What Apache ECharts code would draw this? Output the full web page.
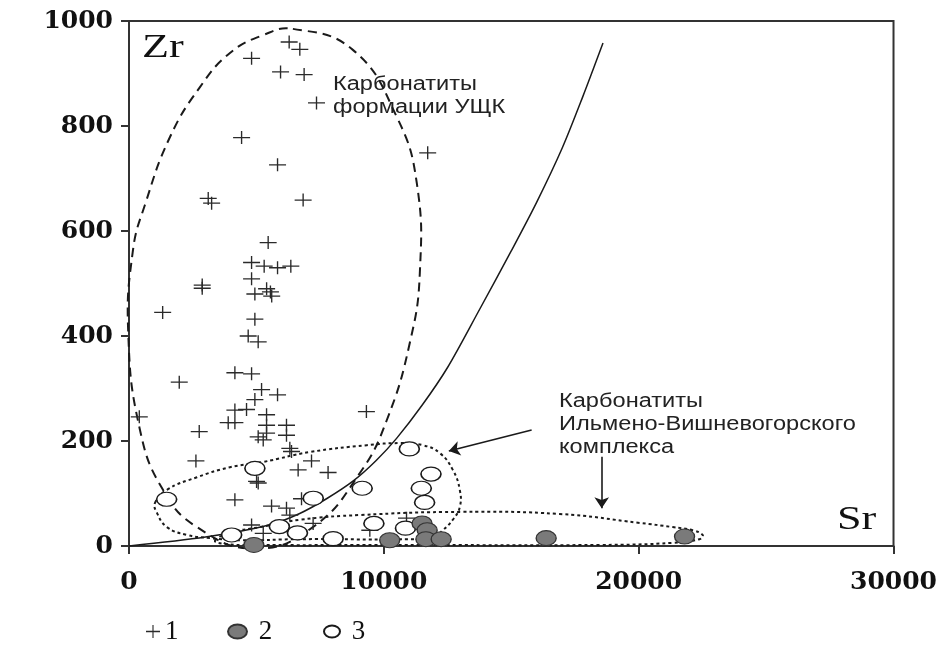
<!DOCTYPE html>
<html><head><meta charset="utf-8">
<script src="https://cdn.jsdelivr.net/npm/echarts@6/dist/echarts.min.js"></script>
<style>html,body{margin:0;padding:0;background:#fff}#c{width:940px;height:648px}</style>
</head><body><div id="c"></div>
<script>
// ---- data ----
const xTicks = [0, 10000, 20000, 30000];
const yTicks = [0, 200, 400, 600, 800, 1000];
const seriesNames = ['1', '2', '3'];

// 1: crosses (Sr, Zr)
const series1 = [
  [6285,960],[6703,946],[4810,929],[5947,903],[6872,898],[7358,844],[4418,778],[5829,726],
  [3109,662],[3242,653],[6833,659],[11721,749],
  [5461,578],[4810,540],[5304,533],[5829,530],[6350,533],[4810,509],[2873,497],[2873,491],
  [4939,480],[5400,490],[5550,484],[5600,476],
  [1321,445],[4939,432],[4677,400],[5069,389],[4155,330],[4810,328],[1972,312],[5202,298],
  [5829,288],[4939,279],
  [4155,259],[4612,260],[5398,250],[3893,235],[4155,235],[5398,230],[6180,230],[5398,215],
  [5069,208],[6180,211],[5267,202],[6311,186],[6377,180],
  [9316,256],[404,246],[2756,218],[2626,162],[5006,123],[5070,120],[7162,162],[6637,145],
  [7812,140],[4155,88],[5594,76],[6180,72],[6311,59],[6770,90],[4810,40],[7225,43],
  [5268,24],[9450,30],[10890,53]
];
// 2: filled grey ellipses
const series2 = [
  [11500,43],[11700,30],[10230,11],[11650,13],[12250,13],[16370,15],[21800,18],[4900,2]
];
// 3: open ellipses
const series3 = [
  [11000,185],[11850,137],[11470,110],[11600,83],[9150,110],[9610,43],[10850,34],
  [4940,148],[1478,89],[7230,91],[5900,37],[6610,25],[4027,21],[8010,14]
];
// solid boundary curve
const boundaryCurve = [
  [0,0],[3000,17],[5500,40],[6700,62],[7750,90],[8800,124],[9700,163],[10500,205],
  [11500,268],[12500,340],[13750,450],[15000,562],[16000,655],[17000,758],[17800,855],[18600,958]
];
// dashed field: carbonatites of the UShchK formation
const fieldUSCK = [
  [6431,985],[8784,945],[10510,817],[11294,691],[11412,520],[11020,387],[10118,240],[9059,139],
  [7216,36],[4941,-5],[2667,36],[1333,107],[431,221],[-30,406],[157,564],[627,650],
  [1608,779],[2784,874],[3961,939],[5255,973]
];
// dotted field 1 (Ilmeno-Vishnevogorsky, upper)
const fieldIlmenoA = [
  [1020,82],[1490,107],[2667,131],[3961,150],[5255,160],[7098,179],[9333,192],[10627,196],
  [11529,192],[12196,177],[12706,145],[12980,107],[12980,74],[12706,50],[12314,30],[11922,17],
  [10627,13],[6706,13],[4353,11],[3176,15],[2275,21],[1490,36],[1098,63]
];
// dotted field 2 (Ilmeno-Vishnevogorsky, lower, elongated)
const fieldIlmenoB = [
  [3373,10],[3961,25],[5137,36],[6706,50],[9059,59],[12980,65],[16902,61],[20039,44],
  [21333,36],[22118,30],[22510,21],[22392,13],[21333,6],[18471,2],[10627,2],[4745,2],[3765,4]
];
// arrows
const arrowA = [[15800,221],[12550,181]];
const arrowB = [[18550,170],[18550,72]];

const label1 = 'Карбонатиты\nформации УЩК';
const label2 = 'Карбонатиты\nИльмено-Вишневогорского\nкомплекса';

// ---- chart ----
const crossPath = 'path://M0,45H100V55H0Z M46,0H54V100H46Z';
const ellipsePath = 'path://M0,50A50,50 0 1,1 100,50A50,50 0 1,1 0,50Z';

function outline(pts, dash, width) {
  return {
    type: 'custom', coordinateSystem: 'cartesian2d', silent: true, clip: false, z: 1,
    data: [0],
    renderItem: function (params, api) {
      return {
        type: 'polygon',
        shape: { points: pts.map(function (p) { return api.coord(p); }), smooth: 0.45 },
        style: { fill: null, stroke: '#1a1a1a', lineWidth: width, lineDash: dash }
      };
    }
  };
}

const chart = echarts.init(document.getElementById('c'), null, { renderer: 'canvas' });
const tickFont = 'DejaVu Serif';
const legendText = { fontFamily: 'Liberation Serif', fontSize: 27, color: '#111' };
const fmt = function (v) { return String(v); };

chart.setOption({
  animation: false,
  backgroundColor: '#fff',
  grid: { left: 129, right: 46, top: 21, bottom: 102, show: true, borderColor: '#333', borderWidth: 2 },
  xAxis: {
    type: 'value', min: xTicks[0], max: xTicks[xTicks.length - 1], interval: 10000,
    axisLine: { show: true, lineStyle: { color: '#333', width: 2 } },
    axisTick: { show: true, length: 8, lineStyle: { color: '#333', width: 2 } },
    axisLabel: { margin: 24, formatter: fmt, fontFamily: tickFont, fontSize: 25, fontWeight: 'bold', color: '#111' },
    splitLine: { show: false }
  },
  yAxis: {
    type: 'value', min: yTicks[0], max: yTicks[yTicks.length - 1], interval: 200,
    axisLine: { show: true, lineStyle: { color: '#333', width: 2 } },
    axisTick: { show: true, length: 8, lineStyle: { color: '#333', width: 2 } },
    axisLabel: { margin: 16, formatter: fmt, fontFamily: tickFont, fontSize: 25, fontWeight: 'bold', color: '#111' },
    splitLine: { show: false }
  },
  legend: [
    { data: [seriesNames[0]], left: 141, top: 613, itemWidth: 14, itemHeight: 13, symbolKeepAspect: false, textStyle: legendText, selectedMode: false },
    { data: [seriesNames[1]], left: 222, top: 613, itemWidth: 19, itemHeight: 14, symbolKeepAspect: false, formatter: ' {name}', textStyle: legendText, selectedMode: false },
    { data: [seriesNames[2]], left: 318, top: 613, itemWidth: 16, itemHeight: 12, symbolKeepAspect: false, formatter: ' {name}', textStyle: legendText, selectedMode: false }
  ],
  graphic: [
    { type: 'text', x: 142, y: 31, scaleX: 1.3, style: { text: 'Zr', font: '34px "Liberation Serif"', fill: '#111', verticalAlign: 'top' } },
    { type: 'text', x: 837, y: 503, scaleX: 1.3, style: { text: 'Sr', font: '34px "Liberation Serif"', fill: '#111', verticalAlign: 'top' } },
    { type: 'text', x: 333, y: 73, scaleX: 1.18, style: { text: label1, font: '20px "Liberation Sans"', lineHeight: 23, fill: '#222', verticalAlign: 'top' } },
    { type: 'text', x: 559, y: 390, scaleX: 1.18, style: { text: label2, font: '20px "Liberation Sans"', lineHeight: 23, fill: '#222', verticalAlign: 'top' } }
  ],
  series: [
    outline(fieldUSCK, [9, 6], 2),
    outline(fieldIlmenoA, [3, 3], 2),
    outline(fieldIlmenoB, [3, 3], 2),
    {
      type: 'line', data: boundaryCurve, smooth: 0.3, showSymbol: false, silent: true, z: 1,
      lineStyle: { color: '#1a1a1a', width: 1.5 }
    },
    {
      type: 'lines', coordinateSystem: 'cartesian2d', silent: true, z: 2,
      symbol: ['none', 'arrow'], symbolSize: 11,
      lineStyle: { color: '#1a1a1a', width: 1.6, opacity: 1 },
      data: [{ coords: arrowA }, { coords: arrowB }]
    },
    {
      name: seriesNames[0], type: 'scatter', data: series1, symbol: crossPath, symbolSize: [17, 13], z: 3,
      itemStyle: { color: '#2a2a2a', opacity: 1 }
    },
    {
      name: seriesNames[2], type: 'scatter', data: series3, symbol: ellipsePath, symbolSize: [20, 14], z: 4,
      itemStyle: { color: '#fff', borderColor: '#1a1a1a', borderWidth: 1.4, opacity: 1 }
    },
    {
      name: seriesNames[1], type: 'scatter', data: series2, symbol: ellipsePath, symbolSize: [20, 15], z: 5,
      itemStyle: { color: '#7a7a7a', borderColor: '#333', borderWidth: 1.2, opacity: 1 }
    }
  ]
});
</script>
</body></html>
